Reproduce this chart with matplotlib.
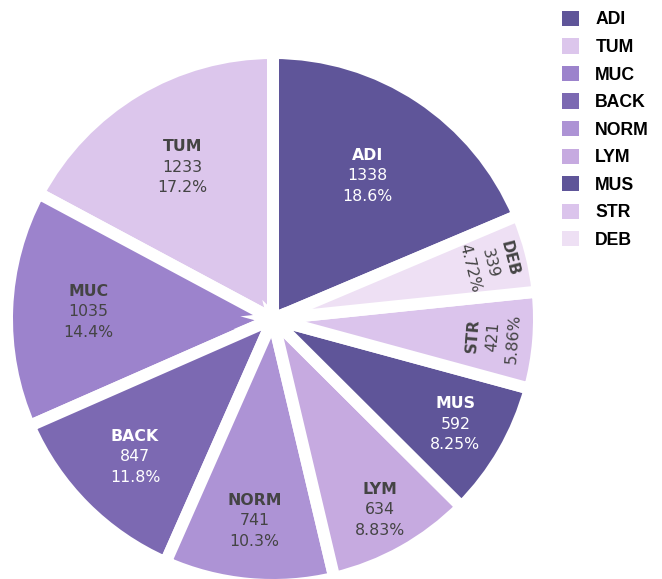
import numpy as np
import matplotlib
matplotlib.use("Agg")
import matplotlib.pyplot as plt
from matplotlib.patches import Patch

# tissue classes, in the order plotly lays them out (descending, counter-clockwise)
classes = ["ADI", "TUM", "MUC", "BACK", "NORM", "LYM", "MUS", "STR", "DEB"]
counts = [1338, 1233, 1035, 847, 741, 634, 592, 421, 339]
percent_labels = ["18.6%", "17.2%", "14.4%", "11.8%", "10.3%", "8.83%", "8.25%", "5.86%", "4.72%"]

colors = ["#5f5599", "#dcc6ec", "#9c83cc", "#7c69b2", "#ad93d5",
          "#c6aae0", "#5f5599", "#dbc4ec", "#eee0f4"]
text_colors = ["white", "#444444", "#444444", "white", "#444444",
               "#444444", "white", "#444444", "#444444"]
# radial position of each inside label, as a fraction of the visible radius
label_r = [0.66, 0.68, 0.71, 0.75, 0.78, 0.84, 0.81, 0.85, 0.86]

W, H = 662, 579
fig = plt.figure(figsize=(W / 100, H / 100), dpi=100)
ax = fig.add_axes([0, 0, 1, 1])

cx, cy = 273, H - 319
r_vis = 260
gap = 12  # white gap between slices, px

total = sum(counts)
start = 90 - 360 * counts[0] / total
wedges, _ = ax.pie(counts, colors=colors, startangle=start, counterclock=True,
                   radius=r_vis + gap / 2, center=(cx, cy),
                   wedgeprops=dict(edgecolor="white", linewidth=gap * 0.72))

fs = 11.3
line_h = 20.5
for w, name, n, pct, tc, fr in zip(wedges, classes, counts, percent_labels,
                                   text_colors, label_r):
    mid_deg = (w.theta1 + w.theta2) / 2
    mid = np.deg2rad(mid_deg)
    x0 = cx + fr * r_vis * np.cos(mid)
    y0 = cy + fr * r_vis * np.sin(mid)
    rot = 0.0
    if n / total < 0.07:
        # tangential text, kept readable
        rot = ((mid_deg - 90) + 90) % 180 - 90
    rr = np.deg2rad(rot)
    down = np.array([np.sin(rr), -np.cos(rr)])
    for i, (s, wt) in enumerate([(name, "bold"), (str(n), "normal"), (pct, "normal")]):
        x = x0 + (i - 1) * line_h * down[0]
        y = y0 + (i - 1) * line_h * down[1]
        ax.text(x, y, s, ha="center", va="center", rotation=rot,
                rotation_mode="anchor", fontsize=fs, fontweight=wt,
                color=tc, family="DejaVu Sans")

ax.set_xlim(0, W)
ax.set_ylim(0, H)
ax.set_aspect("auto")
ax.axis("off")

handles = [Patch(facecolor=c, edgecolor="none") for c in colors]
leg = ax.legend(handles, classes, loc="upper left",
                bbox_to_anchor=(553 / W, 1 - 2 / H), frameon=False,
                handlelength=0.95, handleheight=0.95, handletextpad=0.95,
                labelspacing=0.56, borderpad=0,
                prop=dict(family="Liberation Sans", weight="bold", size=12.7))

fig.savefig("out.png", dpi=100)
